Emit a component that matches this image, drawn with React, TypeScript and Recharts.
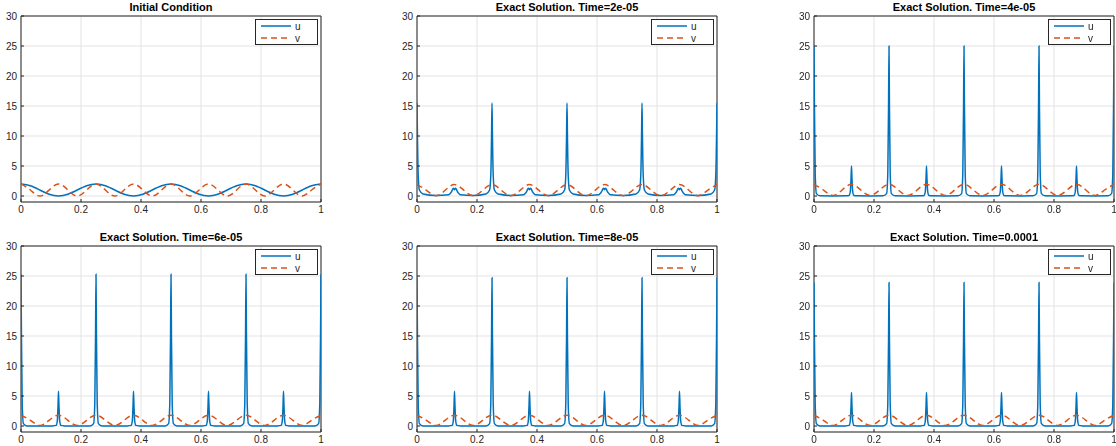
import React from 'react';
import { LineChart, Line, XAxis, YAxis, CartesianGrid, ReferenceArea, Legend } from 'recharts';

// sample positions: uniform 1/32 grid for the smooth fields, clustered grid around the peaks
const X_FINE = [
  0, 0.03125, 0.0625, 0.09375, 0.125, 0.15625, 0.1875, 0.21875,
  0.25, 0.28125, 0.3125, 0.34375, 0.375, 0.40625, 0.4375, 0.46875,
  0.5, 0.53125, 0.5625, 0.59375, 0.625, 0.65625, 0.6875, 0.71875,
  0.75, 0.78125, 0.8125, 0.84375, 0.875, 0.90625, 0.9375, 0.96875, 1,
];

const X_SPIKE = [
  0, 0.0015, 0.004, 0.008, 0.02, 0.0625, 0.105, 0.117, 0.121, 0.1235,
  0.125, 0.1265, 0.129, 0.133, 0.145, 0.1875, 0.23, 0.242, 0.246, 0.2485,
  0.25, 0.2515, 0.254, 0.258, 0.27, 0.3125, 0.355, 0.367, 0.371, 0.3735,
  0.375, 0.3765, 0.379, 0.383, 0.395, 0.4375, 0.48, 0.492, 0.496, 0.4985,
  0.5, 0.5015, 0.504, 0.508, 0.52, 0.5625, 0.605, 0.617, 0.621, 0.6235,
  0.625, 0.6265, 0.629, 0.633, 0.645, 0.6875, 0.73, 0.742, 0.746, 0.7485,
  0.75, 0.7515, 0.754, 0.758, 0.77, 0.8125, 0.855, 0.867, 0.871, 0.8735,
  0.875, 0.8765, 0.879, 0.883, 0.895, 0.9375, 0.98, 0.992, 0.996, 0.9985,
  1,
];

const X_TICKS = [0, 0.2, 0.4, 0.6, 0.8, 1];
const Y_TICKS = [0, 5, 10, 15, 20, 25, 30];

const TITLES = [
  'Initial Condition',
  'Exact Solution. Time=2e-05',
  'Exact Solution. Time=4e-05',
  'Exact Solution. Time=6e-05',
  'Exact Solution. Time=8e-05',
  'Exact Solution. Time=0.0001',
];

// initial condition on X_FINE
const U_INIT = [
  2, 1.71, 1, 0.29, 0, 0.29, 1, 1.71,
  2, 1.71, 1, 0.29, 0, 0.29, 1, 1.71,
  2, 1.71, 1, 0.29, 0, 0.29, 1, 1.71,
  2, 1.71, 1, 0.29, 0, 0.29, 1, 1.71, 2,
];
const V_INIT = [
  2, 1, 0, 1, 2, 1, 0, 1, 2, 1, 0, 1, 2, 1, 0, 1,
  2, 1, 0, 1, 2, 1, 0, 1, 2, 1, 0, 1, 2, 1, 0, 1, 2,
];

// u on X_SPIKE
const U_T2 = [
  15.5, 10, 3.5, 1, 0.35, 0.1, 0.2, 0.9, 1.3, 1.2,
  1.05, 1.2, 1.3, 0.9, 0.2, 0.1, 0.35, 1, 3.5, 10,
  15.5, 10, 3.5, 1, 0.35, 0.1, 0.2, 0.9, 1.3, 1.2,
  1.05, 1.2, 1.3, 0.9, 0.2, 0.1, 0.35, 1, 3.5, 10,
  15.5, 10, 3.5, 1, 0.35, 0.1, 0.2, 0.9, 1.3, 1.2,
  1.05, 1.2, 1.3, 0.9, 0.2, 0.1, 0.35, 1, 3.5, 10,
  15.5, 10, 3.5, 1, 0.35, 0.1, 0.2, 0.9, 1.3, 1.2,
  1.05, 1.2, 1.3, 0.9, 0.2, 0.1, 0.35, 1, 3.5, 10,
  15.5,
];
const U_T4 = [
  25, 15, 3.7, 0.4, 0.03, 0.02, 0.03, 0.1, 0.75, 3,
  5, 3, 0.75, 0.1, 0.03, 0.02, 0.03, 0.4, 3.7, 15,
  25, 15, 3.7, 0.4, 0.03, 0.02, 0.03, 0.1, 0.75, 3,
  5, 3, 0.75, 0.1, 0.03, 0.02, 0.03, 0.4, 3.7, 15,
  25, 15, 3.7, 0.4, 0.03, 0.02, 0.03, 0.1, 0.75, 3,
  5, 3, 0.75, 0.1, 0.03, 0.02, 0.03, 0.4, 3.7, 15,
  25, 15, 3.7, 0.4, 0.03, 0.02, 0.03, 0.1, 0.75, 3,
  5, 3, 0.75, 0.1, 0.03, 0.02, 0.03, 0.4, 3.7, 15,
  25,
];
const U_T6 = [
  25.3, 15.2, 3.8, 0.4, 0.02, 0, 0.02, 0.1, 0.85, 3.5,
  5.8, 3.5, 0.85, 0.1, 0.02, 0, 0.02, 0.4, 3.8, 15.2,
  25.3, 15.2, 3.8, 0.4, 0.02, 0, 0.02, 0.1, 0.85, 3.5,
  5.8, 3.5, 0.85, 0.1, 0.02, 0, 0.02, 0.4, 3.8, 15.2,
  25.3, 15.2, 3.8, 0.4, 0.02, 0, 0.02, 0.1, 0.85, 3.5,
  5.8, 3.5, 0.85, 0.1, 0.02, 0, 0.02, 0.4, 3.8, 15.2,
  25.3, 15.2, 3.8, 0.4, 0.02, 0, 0.02, 0.1, 0.85, 3.5,
  5.8, 3.5, 0.85, 0.1, 0.02, 0, 0.02, 0.4, 3.8, 15.2,
  25.3,
];
const U_T8 = [
  24.7, 14.8, 3.7, 0.4, 0.02, 0, 0.02, 0.1, 0.85, 3.5,
  5.8, 3.5, 0.85, 0.1, 0.02, 0, 0.02, 0.4, 3.7, 14.8,
  24.7, 14.8, 3.7, 0.4, 0.02, 0, 0.02, 0.1, 0.85, 3.5,
  5.8, 3.5, 0.85, 0.1, 0.02, 0, 0.02, 0.4, 3.7, 14.8,
  24.7, 14.8, 3.7, 0.4, 0.02, 0, 0.02, 0.1, 0.85, 3.5,
  5.8, 3.5, 0.85, 0.1, 0.02, 0, 0.02, 0.4, 3.7, 14.8,
  24.7, 14.8, 3.7, 0.4, 0.02, 0, 0.02, 0.1, 0.85, 3.5,
  5.8, 3.5, 0.85, 0.1, 0.02, 0, 0.02, 0.4, 3.7, 14.8,
  24.7,
];
const U_T10 = [
  23.9, 14.3, 3.6, 0.4, 0.02, 0, 0.02, 0.1, 0.85, 3.4,
  5.6, 3.4, 0.85, 0.1, 0.02, 0, 0.02, 0.4, 3.6, 14.3,
  23.9, 14.3, 3.6, 0.4, 0.02, 0, 0.02, 0.1, 0.85, 3.4,
  5.6, 3.4, 0.85, 0.1, 0.02, 0, 0.02, 0.4, 3.6, 14.3,
  23.9, 14.3, 3.6, 0.4, 0.02, 0, 0.02, 0.1, 0.85, 3.4,
  5.6, 3.4, 0.85, 0.1, 0.02, 0, 0.02, 0.4, 3.6, 14.3,
  23.9, 14.3, 3.6, 0.4, 0.02, 0, 0.02, 0.1, 0.85, 3.4,
  5.6, 3.4, 0.85, 0.1, 0.02, 0, 0.02, 0.4, 3.6, 14.3,
  23.9,
];

// v on X_FINE
const V_T2 = [
  1.9, 0.95, 0.05, 0.95, 1.9, 0.95, 0.05, 0.95, 1.9, 0.95, 0.05, 0.95, 1.9, 0.95, 0.05, 0.95,
  1.9, 0.95, 0.05, 0.95, 1.9, 0.95, 0.05, 0.95, 1.9, 0.95, 0.05, 0.95, 1.9, 0.95, 0.05, 0.95, 1.9,
];
const V_T4 = [
  1.95, 1, 0.1, 1, 1.95, 1, 0.1, 1, 1.95, 1, 0.1, 1, 1.95, 1, 0.1, 1,
  1.95, 1, 0.1, 1, 1.95, 1, 0.1, 1, 1.95, 1, 0.1, 1, 1.95, 1, 0.1, 1, 1.95,
];
const V_T6 = [
  1.8, 0.95, 0.1, 0.95, 1.8, 0.95, 0.1, 0.95, 1.8, 0.95, 0.1, 0.95, 1.8, 0.95, 0.1, 0.95,
  1.8, 0.95, 0.1, 0.95, 1.8, 0.95, 0.1, 0.95, 1.8, 0.95, 0.1, 0.95, 1.8, 0.95, 0.1, 0.95, 1.8,
];
const V_T8 = [
  1.8, 0.95, 0.1, 0.95, 1.8, 0.95, 0.1, 0.95, 1.8, 0.95, 0.1, 0.95, 1.8, 0.95, 0.1, 0.95,
  1.8, 0.95, 0.1, 0.95, 1.8, 0.95, 0.1, 0.95, 1.8, 0.95, 0.1, 0.95, 1.8, 0.95, 0.1, 0.95, 1.8,
];
const V_T10 = [
  1.8, 0.95, 0.1, 0.95, 1.8, 0.95, 0.1, 0.95, 1.8, 0.95, 0.1, 0.95, 1.8, 0.95, 0.1, 0.95,
  1.8, 0.95, 0.1, 0.95, 1.8, 0.95, 0.1, 0.95, 1.8, 0.95, 0.1, 0.95, 1.8, 0.95, 0.1, 0.95, 1.8,
];

const U_COLOR = '#0072BD';
const V_COLOR = '#D95319';
const AXIS_COLOR = '#262626';
const GRID_COLOR = '#e3e3e3';
const FONT = '"Liberation Sans", Arial, Helvetica, sans-serif';

const toPoints = (xs: number[], ys: number[]) => xs.map((x, i) => ({ x, y: ys[i] }));

// plot-area size in px; every panel uses the same box
const PLOT_W = 300;
const PLOT_H = 186;
const Y_AXIS_W = 30;
const X_AXIS_H = 20;
const TOP_PAD = 16;
const RIGHT_PAD = 4;

const panels = [
  { title: TITLES[0], u: toPoints(X_FINE, U_INIT), v: toPoints(X_FINE, V_INIT), uCurve: 'natural', left: 21, top: 16 },
  { title: TITLES[1], u: toPoints(X_SPIKE, U_T2), v: toPoints(X_FINE, V_T2), uCurve: 'monotone', left: 417, top: 16 },
  { title: TITLES[2], u: toPoints(X_SPIKE, U_T4), v: toPoints(X_FINE, V_T4), uCurve: 'monotone', left: 814, top: 16 },
  { title: TITLES[3], u: toPoints(X_SPIKE, U_T6), v: toPoints(X_FINE, V_T6), uCurve: 'monotone', left: 21, top: 246 },
  { title: TITLES[4], u: toPoints(X_SPIKE, U_T8), v: toPoints(X_FINE, V_T8), uCurve: 'monotone', left: 417, top: 246 },
  { title: TITLES[5], u: toPoints(X_SPIKE, U_T10), v: toPoints(X_FINE, V_T10), uCurve: 'monotone', left: 814, top: 246 },
];

const LegendBox = ({ payload }: any) => {
  const items = payload || [];
  return (
    <div style={{ width: 61, height: 24, border: `1px solid ${AXIS_COLOR}`, background: '#fff' }}>
      <svg width={61} height={24} style={{ display: 'block' }}>
        {items.map((item: any, i: number) => {
          const cy = 6 + i * 12;
          const dashed = item.payload && item.payload.strokeDasharray;
          return (
            <g key={item.value}>
              <line x1={5} x2={35} y1={cy} y2={cy} stroke={item.color} strokeWidth={1.5} strokeDasharray={dashed || undefined} />
              <text x={39} y={cy + 3.5} fontSize={10} fontFamily={FONT} fill={AXIS_COLOR}>
                {item.value}
              </text>
            </g>
          );
        })}
      </svg>
    </div>
  );
};

const tickStyle = { fill: AXIS_COLOR, fontSize: 10, fontFamily: FONT };

const Panel = ({ title, u, v, uCurve, left, top }: any) => {
  const w = Y_AXIS_W + PLOT_W + RIGHT_PAD;
  const h = TOP_PAD + PLOT_H + X_AXIS_H;
  return (
    <div style={{ position: 'absolute', left: left - Y_AXIS_W, top: top - TOP_PAD, width: w, height: h }}>
      <div
        style={{
          position: 'absolute',
          left: Y_AXIS_W,
          top: 0,
          width: PLOT_W,
          height: 14,
          lineHeight: '14px',
          textAlign: 'center',
          fontWeight: 'bold',
          fontSize: 11,
          color: '#000',
          whiteSpace: 'nowrap',
        }}
      >
        {title}
      </div>
      <LineChart width={w} height={h} margin={{ top: TOP_PAD, right: RIGHT_PAD, bottom: 0, left: 0 }}>
        <CartesianGrid stroke={GRID_COLOR} strokeWidth={1} />
        {/* inward tick marks, as in a boxed MATLAB axes */}
        <XAxis
          dataKey="x"
          type="number"
          domain={[0, 1]}
          ticks={X_TICKS}
          allowDataOverflow
          height={X_AXIS_H}
          axisLine={false}
          tickLine={{ stroke: AXIS_COLOR }}
          tickSize={-3}
          tickMargin={7}
          tick={tickStyle}
        />
        <YAxis
          type="number"
          domain={[-1, 30]}
          ticks={Y_TICKS}
          allowDataOverflow
          width={Y_AXIS_W}
          axisLine={false}
          tickLine={{ stroke: AXIS_COLOR }}
          tickSize={-3}
          tickMargin={7}
          tick={tickStyle}
        />
        <Line
          data={u}
          dataKey="y"
          name="u"
          type={uCurve}
          stroke={U_COLOR}
          strokeWidth={1.5}
          dot={false}
          activeDot={false}
          isAnimationActive={false}
        />
        <Line
          data={v}
          dataKey="y"
          name="v"
          type="natural"
          stroke={V_COLOR}
          strokeWidth={1.5}
          strokeDasharray="6 4"
          dot={false}
          activeDot={false}
          isAnimationActive={false}
        />
        <ReferenceArea x1={0} x2={1} y1={-1} y2={30} fill="none" stroke={AXIS_COLOR} strokeWidth={1} ifOverflow="visible" />
        <Legend
          content={<LegendBox />}
          layout="vertical"
          align="center"
          verticalAlign="middle"
          wrapperStyle={{ top: TOP_PAD + 3, right: RIGHT_PAD + 3, width: 63, height: 26 }}
        />
      </LineChart>
    </div>
  );
};

export default function App() {
  return (
    <div style={{ position: 'fixed', left: 0, top: 0, width: 1116, height: 446, background: '#fff', fontFamily: FONT }}>
      {panels.map((p) => (
        <Panel key={p.title} {...p} />
      ))}
    </div>
  );
}
